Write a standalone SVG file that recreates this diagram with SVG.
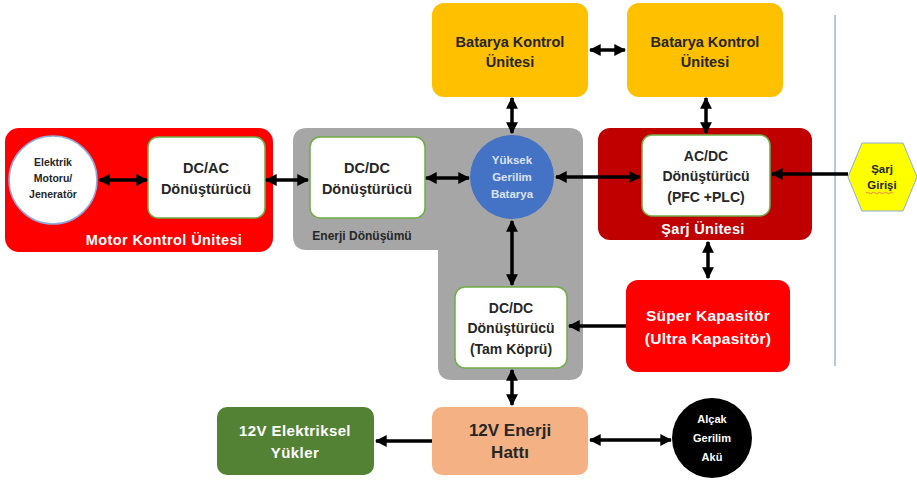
<svg xmlns="http://www.w3.org/2000/svg" width="917" height="483" viewBox="0 0 917 483">
<defs>
<marker id="ah" viewBox="0 0 10 10" refX="9" refY="5" markerWidth="3.4" markerHeight="3.4" orient="auto-start-reverse" markerUnits="strokeWidth">
<path d="M0,0 L10,5 L0,10 Z" fill="#000"/>
</marker>
<style>
text{font-family:"Liberation Sans",Arial,sans-serif;font-weight:bold;text-anchor:middle}
.wb{fill:#fff;stroke:#70AD47;stroke-width:1.5}
.dk{fill:#262626}
.wt{fill:#fff}
.c{stroke:#000;stroke-width:3.5;fill:none}
</style>
</defs>
<rect width="917" height="483" fill="#fff"/>
<line x1="835" y1="15" x2="835" y2="366" stroke="#B4C7E7" stroke-width="2"/>

<g id="motor-kontrol">
<rect x="5" y="128" width="268" height="124" rx="14" fill="#FF0000"/>
<text x="164" y="245" class="wt" font-size="14.5" letter-spacing="0.4">Motor Kontrol Ünitesi</text>
</g>
<g id="elektrik-motoru">
<circle cx="53" cy="180" r="44" fill="#fff" stroke="#8FAADC" stroke-width="1.5"/>
<text x="53" y="166" class="dk" font-size="10.5">Elektrik</text>
<text x="53" y="182" class="dk" font-size="10.5">Motoru/</text>
<text x="53" y="198" class="dk" font-size="10.5">Jeneratör</text>
</g>
<g id="dcac">
<rect x="148" y="137" width="117" height="81" rx="10" class="wb"/>
<text x="206" y="173" class="dk" font-size="14.5">DC/AC</text>
<text x="206" y="194" class="dk" font-size="14.5">Dönüştürücü</text>
</g>

<g id="enerji-donusumu">
<path d="M307,128 H569 Q583,128 583,142 V366 Q583,380 569,380 H452 Q438,380 438,366 V250 H307 Q293,250 293,236 V142 Q293,128 307,128 Z" fill="#A6A6A6"/>
<text x="362" y="240" class="dk" font-size="12">Enerji Dönüşümü</text>
</g>
<g id="dcdc1">
<rect x="310" y="137" width="115" height="81" rx="10" class="wb"/>
<text x="367" y="173" class="dk" font-size="14.5">DC/DC</text>
<text x="367" y="194" class="dk" font-size="14.5">Dönüştürücü</text>
</g>
<g id="batarya">
<circle cx="512" cy="177" r="42" fill="#4472C4"/>
<text x="512" y="164" fill="#DAE3F3" font-size="11.5">Yüksek</text>
<text x="512" y="181" fill="#DAE3F3" font-size="11.5">Gerilim</text>
<text x="512" y="198" fill="#DAE3F3" font-size="11.5">Batarya</text>
</g>
<g id="dcdc2">
<rect x="455" y="287" width="112" height="81" rx="10" class="wb"/>
<text x="511" y="313" class="dk" font-size="14">DC/DC</text>
<text x="511" y="333" class="dk" font-size="14">Dönüştürücü</text>
<text x="511" y="354" class="dk" font-size="14">(Tam Köprü)</text>
</g>

<g id="bku1">
<rect x="432" y="3" width="156" height="94" rx="12" fill="#FFC000"/>
<text x="510" y="47" class="dk" font-size="14.5">Batarya Kontrol</text>
<text x="510" y="67" class="dk" font-size="14.5">Ünitesi</text>
</g>
<g id="bku2">
<rect x="627" y="3" width="156" height="94" rx="12" fill="#FFC000"/>
<text x="705" y="47" class="dk" font-size="14.5">Batarya Kontrol</text>
<text x="705" y="67" class="dk" font-size="14.5">Ünitesi</text>
</g>

<g id="sarj-unitesi">
<rect x="598" y="128" width="214" height="112" rx="12" fill="#C00000"/>
<text x="703" y="234" class="wt" font-size="14.5" letter-spacing="0.3">Şarj Ünitesi</text>
</g>
<g id="acdc">
<rect x="642" y="135" width="128" height="81" rx="10" class="wb"/>
<text x="706" y="161" class="dk" font-size="14">AC/DC</text>
<text x="706" y="181" class="dk" font-size="14">Dönüştürücü</text>
<text x="706" y="202" class="dk" font-size="14">(PFC +PLC)</text>
</g>
<g id="sarj-girisi">
<polygon points="848,177 862,143 903,143 917,177 903,211 862,211" fill="#FFFF00" stroke="#8FAADC" stroke-width="1"/>
<text x="882" y="173" class="dk" font-size="11.5">Şarj</text>
<text x="882" y="189" class="dk" font-size="11.5">Girişi</text>
<path d="M866,193 q1.5,-1.5 3,0 t3,0 t3,0 t3,0 t3,0 t3,0 t3,0 t3,0 t3,0" stroke="#E06666" stroke-width="0.8" fill="none"/>
</g>
<g id="super-kapasitor">
<rect x="626" y="280" width="164" height="92" rx="12" fill="#FF0000"/>
<text x="708" y="321" class="wt" font-size="15.5" letter-spacing="0.3">Süper Kapasitör</text>
<text x="708" y="344" class="wt" font-size="15.5" letter-spacing="0.3">(Ultra Kapasitör)</text>
</g>

<g id="enerji-hatti">
<rect x="432" y="407" width="156" height="68" rx="10" fill="#F4B183"/>
<text x="510" y="436" fill="#262626" font-size="17">12V Enerji</text>
<text x="510" y="458" fill="#262626" font-size="17">Hattı</text>
</g>
<g id="yukler">
<rect x="217" y="407" width="157" height="68" rx="10" fill="#548235"/>
<text x="295" y="436" class="wt" font-size="15" letter-spacing="0.4">12V Elektriksel</text>
<text x="295" y="458" class="wt" font-size="15" letter-spacing="0.4">Yükler</text>
</g>
<g id="alcak-aku">
<circle cx="712" cy="438" r="40" fill="#000"/>
<text x="712" y="423" class="wt" font-size="11">Alçak</text>
<text x="712" y="442" class="wt" font-size="11">Gerilim</text>
<text x="712" y="461" class="wt" font-size="11">Akü</text>
</g>

<g id="connectors">
<line x1="99" y1="180" x2="147" y2="180" class="c" marker-start="url(#ah)" marker-end="url(#ah)"/>
<line x1="266" y1="180" x2="308" y2="180" class="c" marker-start="url(#ah)" marker-end="url(#ah)"/>
<line x1="426" y1="178" x2="469" y2="178" class="c" marker-start="url(#ah)" marker-end="url(#ah)"/>
<line x1="556" y1="177" x2="640" y2="177" class="c" marker-start="url(#ah)" marker-end="url(#ah)"/>
<line x1="848" y1="174" x2="772" y2="174" class="c" marker-end="url(#ah)"/>
<line x1="512" y1="98" x2="512" y2="133" class="c" marker-start="url(#ah)" marker-end="url(#ah)"/>
<line x1="706" y1="98" x2="706" y2="133" class="c" marker-start="url(#ah)" marker-end="url(#ah)"/>
<line x1="590" y1="50" x2="625" y2="50" class="c" marker-start="url(#ah)" marker-end="url(#ah)"/>
<line x1="512" y1="221" x2="512" y2="285" class="c" marker-start="url(#ah)" marker-end="url(#ah)"/>
<line x1="708" y1="242" x2="708" y2="278" class="c" marker-start="url(#ah)" marker-end="url(#ah)"/>
<line x1="626" y1="326" x2="569" y2="326" class="c" marker-end="url(#ah)"/>
<line x1="512" y1="370" x2="512" y2="405" class="c" marker-start="url(#ah)" marker-end="url(#ah)"/>
<line x1="432" y1="441" x2="376" y2="441" class="c" marker-end="url(#ah)"/>
<line x1="590" y1="440" x2="671" y2="440" class="c" marker-start="url(#ah)" marker-end="url(#ah)"/>
</g>
</svg>
